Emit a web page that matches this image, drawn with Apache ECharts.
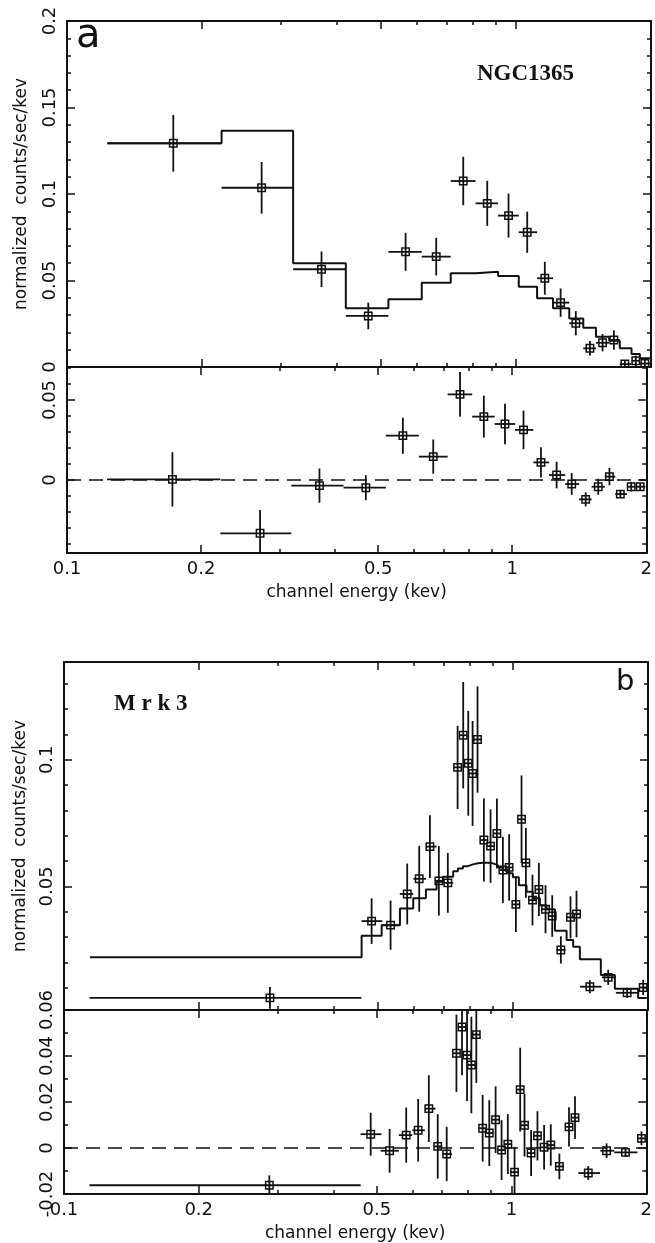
<!DOCTYPE html>
<html>
<head>
<meta charset="utf-8">
<script src="https://cdn.jsdelivr.net/npm/echarts@6.0.0/dist/echarts.min.js"></script>
<style>
  html, body { margin: 0; padding: 0; background: #fff; }
  #container { width: 655px; height: 1243px; }
</style>
</head>
<body>
<div id="container"></div>
<script>
// panel a : NGC1365  (energies in keV)
var aEdges = [0.123, 0.221, 0.319, 0.418, 0.52, 0.617, 0.716, 0.813, 0.913, 1.015, 1.115, 1.21, 1.315, 1.413, 1.508, 1.614, 1.704, 1.81, 1.889, 1.99];
var aCenter = [0.1725, 0.2714, 0.369, 0.469, 0.568, 0.6646, 0.7634, 0.8634, 0.963, 1.06, 1.16, 1.258, 1.36, 1.462, 1.56, 1.653, 1.749, 1.85, 1.938];
var aData = [0.1293, 0.1036, 0.0565, 0.0295, 0.0666, 0.0638, 0.1075, 0.0946, 0.0875, 0.0779, 0.0513, 0.0372, 0.0253, 0.0108, 0.014, 0.0156, 0.0017, 0.0036, 0.002];
var aErr = [0.0164, 0.0149, 0.0103, 0.0077, 0.011, 0.0109, 0.014, 0.013, 0.0127, 0.0119, 0.0095, 0.0082, 0.007, 0.0042, 0.005, 0.0056, 0.002, 0.003, 0.0015];
var aModel = [0.1293, 0.1366, 0.06, 0.0339, 0.0391, 0.0487, 0.0542, 0.0551, 0.0526, 0.0464, 0.0397, 0.0339, 0.0281, 0.0227, 0.0175, 0.0152, 0.0108, 0.0075, 0.005];
var aResid = [0.0004, -0.0333, -0.0035, -0.0048, 0.0277, 0.0146, 0.0535, 0.0396, 0.035, 0.0313, 0.011, 0.0031, -0.0025, -0.0121, -0.0042, 0.0021, -0.0088, -0.0042, -0.0042];
var aResidErr = [0.017, 0.0145, 0.0107, 0.0078, 0.0113, 0.0107, 0.014, 0.0131, 0.0127, 0.012, 0.0094, 0.0083, 0.0068, 0.0044, 0.005, 0.0054, 0.002, 0.003, 0.002];

// panel b : Mrk3
var bCenter = [0.2876, 0.4845, 0.534, 0.5816, 0.6185, 0.6534, 0.684, 0.7163, 0.7531, 0.7751, 0.7954, 0.8133, 0.8342, 0.8618, 0.8918, 0.9213, 0.95, 0.981, 1.0155, 1.0454, 1.069, 1.1058, 1.1426, 1.1823, 1.2237, 1.279, 1.344, 1.386, 1.484, 1.6305, 1.797, 1.951];
var bLo = [0.114, 0.46, 0.51, 0.56, 0.6, 0.64, 0.676, 0.7, 0.742, 0.765, 0.785, 0.805, 0.824, 0.846, 0.877, 0.906, 0.936, 0.966, 0.998, 1.03, 1.057, 1.087, 1.124, 1.162, 1.203, 1.25, 1.32, 1.365, 1.41, 1.579, 1.696, 1.911];
var bHi = [0.46, 0.512, 0.56, 0.6, 0.64, 0.676, 0.7, 0.736, 0.765, 0.785, 0.805, 0.824, 0.846, 0.877, 0.906, 0.936, 0.966, 0.998, 1.03, 1.057, 1.087, 1.124, 1.162, 1.203, 1.25, 1.31, 1.365, 1.41, 1.576, 1.696, 1.911, 1.99];
var bData = [0.006, 0.0363, 0.0347, 0.047, 0.053, 0.0657, 0.0522, 0.0514, 0.097, 0.1097, 0.0986, 0.0946, 0.108, 0.0683, 0.0659, 0.0709, 0.0565, 0.0575, 0.0429, 0.0765, 0.0593, 0.0446, 0.0488, 0.041, 0.0383, 0.0249, 0.0378, 0.0391, 0.0104, 0.0141, 0.008, 0.0101];
var bErr = [0.0043, 0.009, 0.0097, 0.012, 0.013, 0.0124, 0.0137, 0.0118, 0.0164, 0.021, 0.0207, 0.0207, 0.021, 0.0164, 0.0145, 0.0138, 0.0131, 0.0131, 0.0109, 0.0173, 0.0138, 0.01, 0.0105, 0.0095, 0.0082, 0.0054, 0.0083, 0.0092, 0.0026, 0.003, 0.002, 0.003];
var bModelEdges = [0.1143, 0.4603, 0.5101, 0.5603, 0.5998, 0.6401, 0.6761, 0.6994, 0.7362, 0.7542, 0.7739, 0.794, 0.8147, 0.8356, 0.8574, 0.8796, 0.9026, 0.9261, 0.95, 0.9748, 1.0, 1.0313, 1.0728, 1.1078, 1.1484, 1.1886, 1.2408, 1.3173, 1.3625, 1.4101, 1.5703, 1.6873, 1.9011, 1.9879];
var bModel = [0.022, 0.0305, 0.0347, 0.0413, 0.0453, 0.0488, 0.0518, 0.0538, 0.056, 0.0571, 0.058, 0.0587, 0.0591, 0.0593, 0.0593, 0.0591, 0.0584, 0.0575, 0.0565, 0.0552, 0.0536, 0.0505, 0.0479, 0.0453, 0.0426, 0.041, 0.0325, 0.0288, 0.0262, 0.0212, 0.015, 0.0096, 0.0059];
var bResid = [-0.0162, 0.006, -0.0012, 0.0056, 0.0077, 0.0171, 0.0007, -0.0026, 0.0412, 0.0526, 0.0404, 0.0361, 0.0493, 0.0086, 0.0065, 0.0123, -0.0009, 0.0017, -0.0105, 0.0254, 0.0099, -0.0022, 0.0053, 0.0003, 0.0013, -0.008, 0.0092, 0.0132, -0.0109, -0.0012, -0.0019, 0.0042];
var bResidErr = [0.0043, 0.0093, 0.0095, 0.012, 0.0136, 0.0145, 0.014, 0.0118, 0.0168, 0.021, 0.02, 0.021, 0.021, 0.0145, 0.0143, 0.0145, 0.013, 0.013, 0.011, 0.0182, 0.0136, 0.01, 0.0107, 0.0097, 0.009, 0.0056, 0.0085, 0.0093, 0.003, 0.0032, 0.002, 0.003];

// ticks
var xMajor = [0.1, 0.2, 0.5, 1, 2];
var xMinor = [0.3, 0.4, 0.6, 0.7, 0.8, 0.9];
var aTopMajor = [0, 0.05, 0.1, 0.15, 0.2];
var aTopMinor = [0.01, 0.02, 0.03, 0.04, 0.06, 0.07, 0.08, 0.09, 0.11, 0.12, 0.13, 0.14, 0.16, 0.17, 0.18, 0.19];
var aBotMajor = [0, 0.05];
var aBotMinor = [-0.04, -0.03, -0.02, -0.01, 0.01, 0.02, 0.03, 0.04, 0.06, 0.07];
var bTopMajor = [0, 0.05, 0.1];
var bTopMinor = [0.01, 0.02, 0.03, 0.04, 0.06, 0.07, 0.08, 0.09, 0.11, 0.12, 0.13];
var bBotMajor = [-0.02, 0, 0.02, 0.04, 0.06];
var bBotMinor = [-0.01, 0.01, 0.03, 0.05];

var L = Math.log10;
var LMIN = -1, LMAX = L(2);
var INK = "#111";
var tickFont = "DejaVu Sans";

var grids = [
  { left: 67, top: 21, width: 584, height: 346 },
  { left: 67, top: 367, width: 584, height: 186 },
  { left: 64, top: 662, width: 584, height: 348 },
  { left: 64, top: 1010, width: 584, height: 185 },
];
var yRanges = [[0, 0.2], [-0.0456, 0.0706], [0.0012, 0.1386], [-0.02, 0.06]];
var yTicks = [[aTopMajor, aTopMinor], [aBotMajor, aBotMinor], [bTopMajor, bTopMinor], [bBotMajor, bBotMinor]];
var yNameGap = [37, 0, 35, 0];

function tick(len, vals) {
  return { show: true, inside: true, length: len, customValues: vals, lineStyle: { color: INK, width: 1.5 } };
}

var xAxes = [];
var yAxes = [];
for (var g = 0; g < 4; g++) {
  var lower = g % 2 == 1;
  var major = xMajor.map(L);
  var minor = xMinor.map(L);
  [["bottom", major, 8, true], ["bottom", minor, 4, false], ["top", major, 8, true], ["top", minor, 4, false]].forEach(function (s, k) {
    var ax = {
      type: "value",
      gridIndex: g,
      min: LMIN,
      max: LMAX,
      position: s[0],
      axisLine: { show: s[3], onZero: false, lineStyle: { color: INK, width: 2 } },
      axisTick: tick(s[2], s[1]),
      axisLabel: { show: false },
      splitLine: { show: false },
    };
    if (k == 0 && lower) {
      ax.axisLabel = {
        show: true,
        customValues: major,
        margin: 7,
        color: INK,
        fontSize: 18,
        fontFamily: tickFont,
        formatter: function (v) {
          return String(+Math.pow(10, v).toPrecision(2));
        },
      };
      ax.name = "channel energy (kev)";
      ax.nameLocation = "middle";
      ax.nameGap = 31;
      ax.nameTextStyle = { color: INK, fontSize: 17, fontFamily: tickFont };
    }
    xAxes.push(ax);
  });

  var yMaj = yTicks[g][0];
  var yMin = yTicks[g][1];
  [["left", yMaj, 8, true], ["left", yMin, 4, false], ["right", yMaj, 8, true], ["right", yMin, 4, false]].forEach(function (s, k) {
    var ax = {
      type: "value",
      gridIndex: g,
      min: yRanges[g][0],
      max: yRanges[g][1],
      position: s[0],
      axisLine: { show: s[3], onZero: false, lineStyle: { color: INK, width: 2 } },
      axisTick: tick(s[2], s[1]),
      axisLabel: { show: false },
      splitLine: { show: false },
    };
    if (k == 0) {
      ax.axisLabel = {
        show: true,
        customValues: yMaj,
        rotate: 90,
        margin: 8,
        color: INK,
        fontSize: 18,
        fontFamily: tickFont,
      };
      if (!lower) {
        ax.name = "normalized  counts/sec/kev";
        ax.nameLocation = "middle";
        ax.nameRotate = 90;
        ax.nameGap = yNameGap[g];
        ax.nameTextStyle = { color: INK, fontSize: 17, fontFamily: tickFont };
      }
    }
    yAxes.push(ax);
  });
}

function stepData(edges, vals) {
  var d = [];
  for (var i = 0; i < vals.length; i++) {
    d.push([L(edges[i]), vals[i]]);
    d.push([L(edges[i + 1]), vals[i]]);
  }
  return d;
}

function errData(cen, val, err, lo, hi) {
  return cen.map(function (c, i) {
    return [L(c), val[i], L(lo[i]), L(hi[i]), err[i]];
  });
}

// box marker with error bars through it
function renderErr(params, api) {
  var y = api.value(1);
  var c = api.coord([api.value(0), y]);
  var lo = api.coord([api.value(2), y]);
  var hi = api.coord([api.value(3), y]);
  var top = api.coord([api.value(0), y + api.value(4)]);
  var bot = api.coord([api.value(0), y - api.value(4)]);
  var h = 3.7;
  var st = { stroke: INK, lineWidth: 1.8, fill: "none" };
  return {
    type: "group",
    children: [
      { type: "line", shape: { x1: Math.min(lo[0], c[0] - h), y1: c[1], x2: Math.max(hi[0], c[0] + h), y2: c[1] }, style: st },
      { type: "line", shape: { x1: c[0], y1: Math.min(top[1], c[1] - h), x2: c[0], y2: Math.max(bot[1], c[1] + h) }, style: st },
      { type: "rect", shape: { x: c[0] - h, y: c[1] - h, width: 2 * h, height: 2 * h }, style: { stroke: INK, lineWidth: 1.5, fill: "none" } },
    ],
  };
}

function errSeries(g, data) {
  return {
    type: "custom",
    xAxisIndex: 4 * g,
    yAxisIndex: 4 * g,
    clip: true,
    renderItem: renderErr,
    encode: { x: 0, y: 1 },
    itemStyle: { color: INK },
    data: data,
  };
}

function lineSeries(g, data, dashed) {
  return {
    type: "line",
    xAxisIndex: 4 * g,
    yAxisIndex: 4 * g,
    showSymbol: false,
    symbol: "none",
    clip: true,
    lineStyle: { color: INK, width: dashed ? 1.7 : 2, type: dashed ? [14, 8] : "solid" },
    data: data,
  };
}

var zero = [[LMIN, 0], [LMAX, 0]];

var myChart = echarts.init(document.getElementById("container"), null, { renderer: "canvas" });
myChart.setOption({
  animation: false,
  backgroundColor: "#fff",
  grid: grids,
  xAxis: xAxes,
  yAxis: yAxes,
  series: [
    lineSeries(0, stepData(aEdges, aModel), false),
    errSeries(0, errData(aCenter, aData, aErr, aEdges.slice(0, -1), aEdges.slice(1))),
    lineSeries(1, zero, true),
    errSeries(1, errData(aCenter, aResid, aResidErr, aEdges.slice(0, -1), aEdges.slice(1))),
    lineSeries(2, stepData(bModelEdges, bModel), false),
    errSeries(2, errData(bCenter, bData, bErr, bLo, bHi)),
    lineSeries(3, zero, true),
    errSeries(3, errData(bCenter, bResid, bResidErr, bLo, bHi)),
  ],
  graphic: [
    { type: "text", left: 76, top: 17, style: { text: "a", font: "40px 'DejaVu Sans'", fill: INK } },
    { type: "text", left: 477, top: 63, style: { text: "NGC1365", font: "bold 23px 'Liberation Serif'", fill: INK } },
    { type: "text", left: 616, top: 668, style: { text: "b", font: "29px 'DejaVu Sans'", fill: INK } },
    { type: "text", left: 114, top: 693, style: { text: "M r k 3", font: "bold 23px 'Liberation Serif'", fill: INK } },
  ],
});
</script>
</body>
</html>
